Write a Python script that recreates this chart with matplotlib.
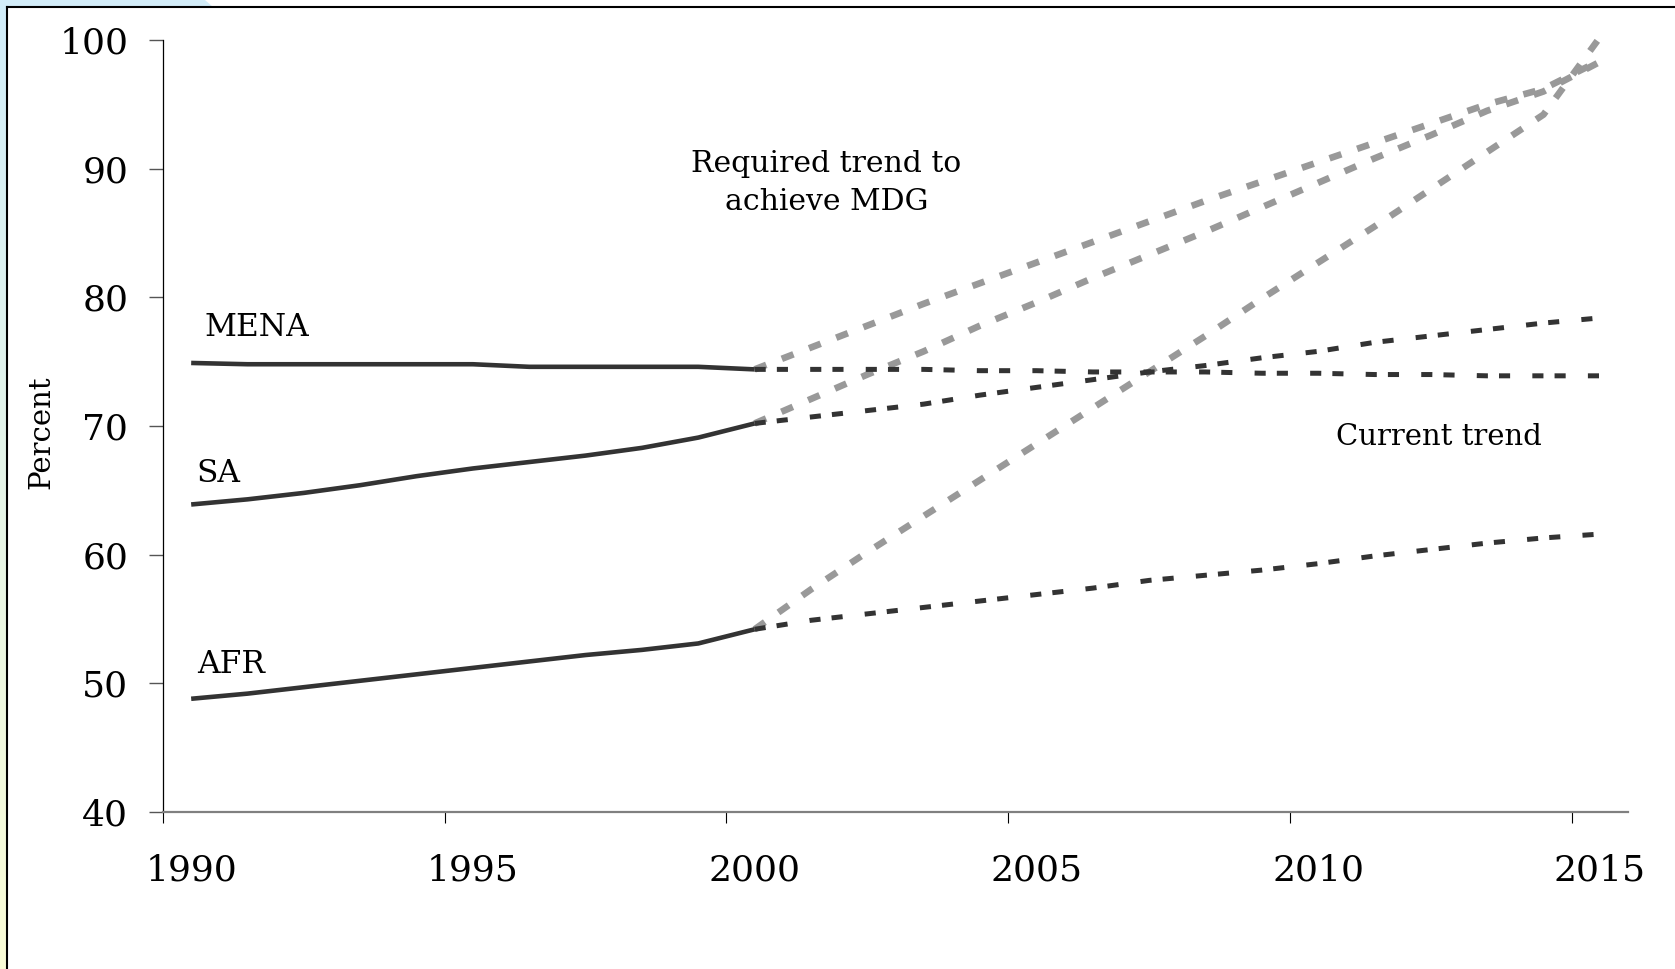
import numpy as np
import matplotlib.pyplot as plt
from matplotlib.patches import Polygon
from matplotlib.lines import Line2D

plt.rcParams['font.family'] = ['DejaVu Serif']
plt.rcParams['lines.scale_dashes'] = False

# data (percent), points sit at category centres (year + 0.5)
years_hist = np.arange(1990, 2001)
years_proj = np.arange(2000, 2016)

mena_hist = [74.9, 74.8, 74.8, 74.8, 74.8, 74.8, 74.6, 74.6, 74.6, 74.6, 74.4]
sa_hist = [63.9, 64.3, 64.8, 65.4, 66.1, 66.7, 67.2, 67.7, 68.3, 69.1, 70.2]
afr_hist = [48.8, 49.2, 49.7, 50.2, 50.7, 51.2, 51.7, 52.2, 52.6, 53.1, 54.2]

mena_cur = [74.4, 74.4, 74.4, 74.4, 74.3, 74.3, 74.2, 74.2, 74.2, 74.1, 74.1, 74.0, 74.0, 73.9, 73.9, 73.9]
sa_cur = [70.2, 70.7, 71.2, 71.7, 72.4, 73.0, 73.6, 74.2, 74.7, 75.3, 75.8, 76.5, 77.0, 77.5, 78.0, 78.4]
afr_cur = [54.2, 54.9, 55.4, 55.9, 56.4, 56.9, 57.4, 58.0, 58.4, 58.8, 59.3, 59.9, 60.4, 60.9, 61.3, 61.6]

mena_req = [74.4, 76.1, 77.8, 79.5, 81.1, 82.7, 84.3, 85.9, 87.5, 89.0, 90.5, 92.0, 93.5, 95.0, 96.2, 98.4]
sa_req = [70.2, 72.1, 74.0, 75.8, 77.8, 79.6, 81.5, 83.3, 85.1, 87.0, 88.9, 90.8, 92.6, 94.5, 96.0, 98.3]
afr_req = [54.2, 57.3, 60.2, 63.0, 65.8, 68.6, 71.4, 74.2, 77.0, 79.9, 82.7, 85.5, 88.4, 91.3, 94.2, 100.2]

tick_years = np.arange(1990, 2016, 5)
tick_labels = [str(y) for y in tick_years]
y_ticks = np.arange(40, 101, 10)

W, H = 1675, 969
fig = plt.figure(figsize=(W / 100, H / 100), dpi=100, facecolor='white')

# slide background bits: gradient strip on the left, blue corner on top
strip = fig.add_axes([0, 0, 7 / W, 1])
grad = np.linspace(0, 1, 200).reshape(-1, 1)
top_c = np.array([0.82, 0.93, 0.98])
bot_c = np.array([0.98, 0.99, 0.84])
img = top_c[None, None, :] * (1 - grad[:, :, None]) + bot_c[None, None, :] * grad[:, :, None]
strip.imshow(img, aspect='auto', extent=[0, 1, 0, 1])
strip.axis('off')
corner = Polygon([(0, 1), (205 / W, 1), (213 / W, 1 - 7 / H), (0, 1 - 7 / H)],
                 closed=True, transform=fig.transFigure, facecolor='#d2ecf8', edgecolor='none')
fig.patches.append(corner)
fig.add_artist(Line2D([7 / W, 1], [1 - 7 / H, 1 - 7 / H], transform=fig.transFigure, color='black', lw=1.5))
fig.add_artist(Line2D([7 / W, 7 / W], [0, 1 - 7 / H], transform=fig.transFigure, color='black', lw=1.5))

ax = fig.add_axes([163 / W, 1 - 812 / H, (1628 - 163) / W, (812 - 40) / H])
ax.set_facecolor('none')

xh = years_hist + 0.5
xp = years_proj + 0.5
grey = '#999999'
dark = '#333333'
for vals in [mena_req, sa_req, afr_req]:
    ax.plot(xp, vals, color=grey, lw=4.8, linestyle=(0, (9, 12)), dash_capstyle='butt', clip_on=False, zorder=2)
for vals in [mena_cur, sa_cur, afr_cur]:
    ax.plot(xp, vals, color=dark, lw=3.6, linestyle=(0, (8, 8, 8, 16)), dash_capstyle='butt', clip_on=False, zorder=3)
for vals in [mena_hist, sa_hist, afr_hist]:
    ax.plot(xh, vals, color=dark, lw=3.3, solid_capstyle='butt', zorder=4)

ax.set_xlim(1990, 2016)
ax.set_ylim(40, 100)

ax.set_xticks(tick_years)
ax.set_xticks(tick_years + 0.5, minor=True)
ax.set_xticklabels(tick_labels, minor=True)
ax.tick_params(axis='x', which='major', direction='out', length=8, width=0.8, color='black', labelbottom=False)
ax.tick_params(axis='x', which='minor', length=0, pad=30, labelsize=26)
ax.set_yticks(y_ticks)
ax.tick_params(axis='y', direction='out', length=10, width=1, color='#555555', pad=15, labelsize=26)

for s in ['top', 'right']:
    ax.spines[s].set_visible(False)
ax.spines['left'].set_color('black')
ax.spines['left'].set_linewidth(0.9)
ax.spines['bottom'].set_color('#808080')
ax.spines['bottom'].set_linewidth(1.6)

fig.text(41 / W, 1 - 432 / H, 'Percent', rotation=90, ha='center', va='center', fontsize=21)

ax.text(1990.74, 76.98, 'MENA', ha='left', va='baseline', fontsize=22.5)
ax.text(1990.6, 65.66, 'SA', ha='left', va='baseline', fontsize=22.5)
ax.text(1990.6, 50.77, 'AFR', ha='left', va='baseline', fontsize=22.5)
ax.text(2001.76, 89.77, 'Required trend to', ha='center', va='baseline', fontsize=21.5)
ax.text(2001.78, 86.8, 'achieve MDG', ha='center', va='baseline', fontsize=21.5)
ax.text(2012.64, 68.53, 'Current trend', ha='center', va='baseline', fontsize=21)

fig.savefig('out.png', dpi=100, facecolor=fig.get_facecolor())
